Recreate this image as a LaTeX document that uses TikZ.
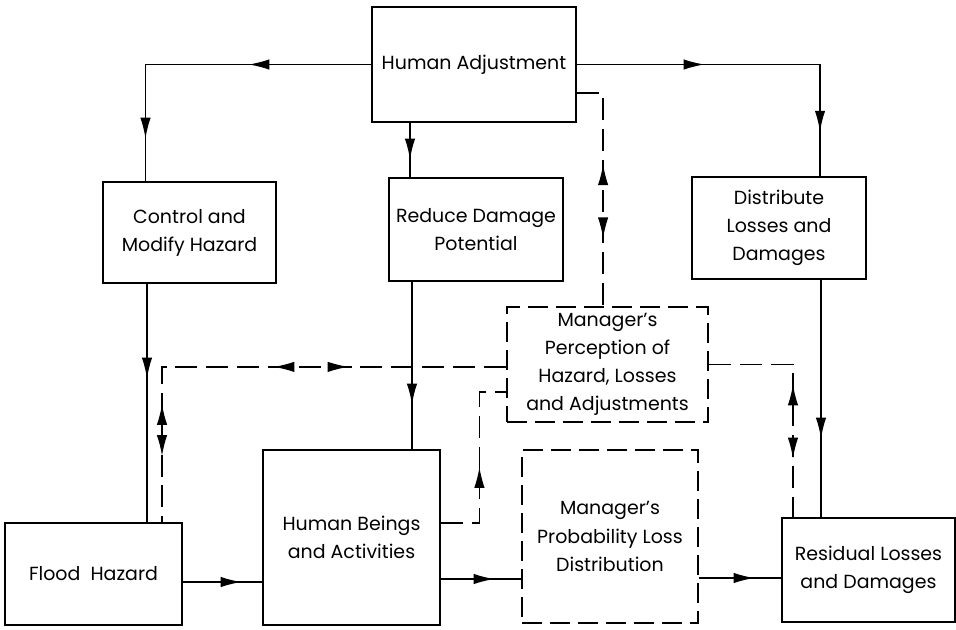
\documentclass[tikz,border=0pt]{standalone}
\usepackage{fontspec}
\setmainfont{Poppins}
\usetikzlibrary{arrows.meta,decorations.markings,calc}

\begin{document}
\begin{tikzpicture}[x=0.025cm, y=-0.025cm,
            box/.style={rectangle, draw=black, line width=2pt, align=center, inner sep=2pt,
                        font=\fontsize{13.5}{20}\selectfont},
            dbox/.style={box, dash pattern=on 0.5cm off 0.2cm},
            conn/.style={line width=1.05pt},
            dconn/.style={conn, dash pattern=on 0.55cm off 0.22cm},
            fwd/.style={postaction={decorate, decoration={markings,
                mark=at position #1 with {\arrow{Latex[length=0.52cm,width=0.26cm]}}}}},
            bwd/.style={postaction={decorate, decoration={markings,
                mark=at position #1 with {\arrowreversed{Latex[length=0.52cm,width=0.26cm]}}}}}]
        \useasboundingbox (0,0) rectangle (956,630);
        % boxes
        \node[box, minimum width=5.1cm, minimum height=2.875cm] (adjust) at (474,64.5) {Human Adjustment};
        \node[box, minimum width=4.325cm, minimum height=2.525cm] (control) at (189.5,232.5) {Control and\\Modify Hazard};
        \node[box, minimum width=4.35cm, minimum height=2.575cm] (reduce) at (476,229.5) {Reduce Damage\\Potential};
        \node[box, minimum width=4.35cm, minimum height=2.55cm] (distrib) at (779,228) {Distribute\\Losses and\\Damages};
        \node[dbox, minimum width=5.025cm, minimum height=2.875cm] (percept) at (607.5,364.5) {Manager's\\Perception of\\Hazard, Losses\\and Adjustments};
        \node[box, minimum width=4.425cm, minimum height=2.55cm] (flood) at (93.5,574) {Flood~ Hazard};
        \node[box, minimum width=4.425cm, minimum height=4.375cm] (beings) at (351.5,537.5) {Human Beings\\and Activities};
        \node[dbox, minimum width=4.4cm, minimum height=4.325cm] (prob) at (610,536.5) {Manager's\\Probability Loss\\Distribution};
        \node[box, minimum width=4.325cm, minimum height=2.6cm] (resid) at (868.5,570) {Residual Losses\\and Damages};
        % solid connectors
        \draw[conn, fwd=3.05cm, fwd=7.475cm] (adjust.west) -| ([xshift=-1.1cm]control.north);
        \draw[conn, fwd=0.9cm] ([xshift=-1.6cm]adjust.south) -- ([xshift=-1.6cm]adjust.south |- reduce.north);
        \draw[conn, fwd=3.175cm, fwd=7.74cm] (adjust.east) -| ([xshift=1.025cm]distrib.north);
        \draw[conn, fwd=2.35cm] ([xshift=-1.0625cm]control.south) -- ([xshift=-1.0625cm]control.south |- flood.north);
        \draw[conn, fwd=3.05cm] ([xshift=-1.6cm]reduce.south) -- ([xshift=-1.6cm]reduce.south |- beings.north);
        \draw[conn, fwd=3.95cm] ([xshift=1.05cm]distrib.south) -- ([xshift=1.05cm]distrib.south |- resid.north);
        \draw[conn, fwd=1.45cm] ([yshift=-0.2cm]flood.east) -- ([yshift=-0.2cm]flood.east -| beings.west);
        \draw[conn, fwd=1.325cm] ([yshift=-1.0375cm]beings.east) -- ([yshift=-1.0375cm]beings.east -| prob.west);
        \draw[conn, fwd=1.375cm] ([yshift=-1.0375cm]prob.east) -- ([yshift=-1.0375cm]prob.east -| resid.west);
        % perception links
        \draw[dconn, bwd=2.425cm, fwd=4.275cm] ([yshift=-0.71cm]adjust.east) -| ([xshift=-0.11cm]percept.north);
        \draw[dconn, fwd=5.8cm, bwd=3.925cm, bwd=9.5125cm, fwd=10.8125cm] ([yshift=-0.06cm]percept.west) -| ([xshift=1.7125cm]flood.north);
        \draw[dconn, fwd=2.35cm] ([yshift=0.3625cm]beings.east) -- ++(38,0) |- ([yshift=-0.6875cm]percept.west);
        \draw[dconn, bwd=2.5875cm, fwd=4.4375cm] (percept.east) -| ([xshift=-1.8875cm]resid.north);
    \end{tikzpicture}
\end{document}
